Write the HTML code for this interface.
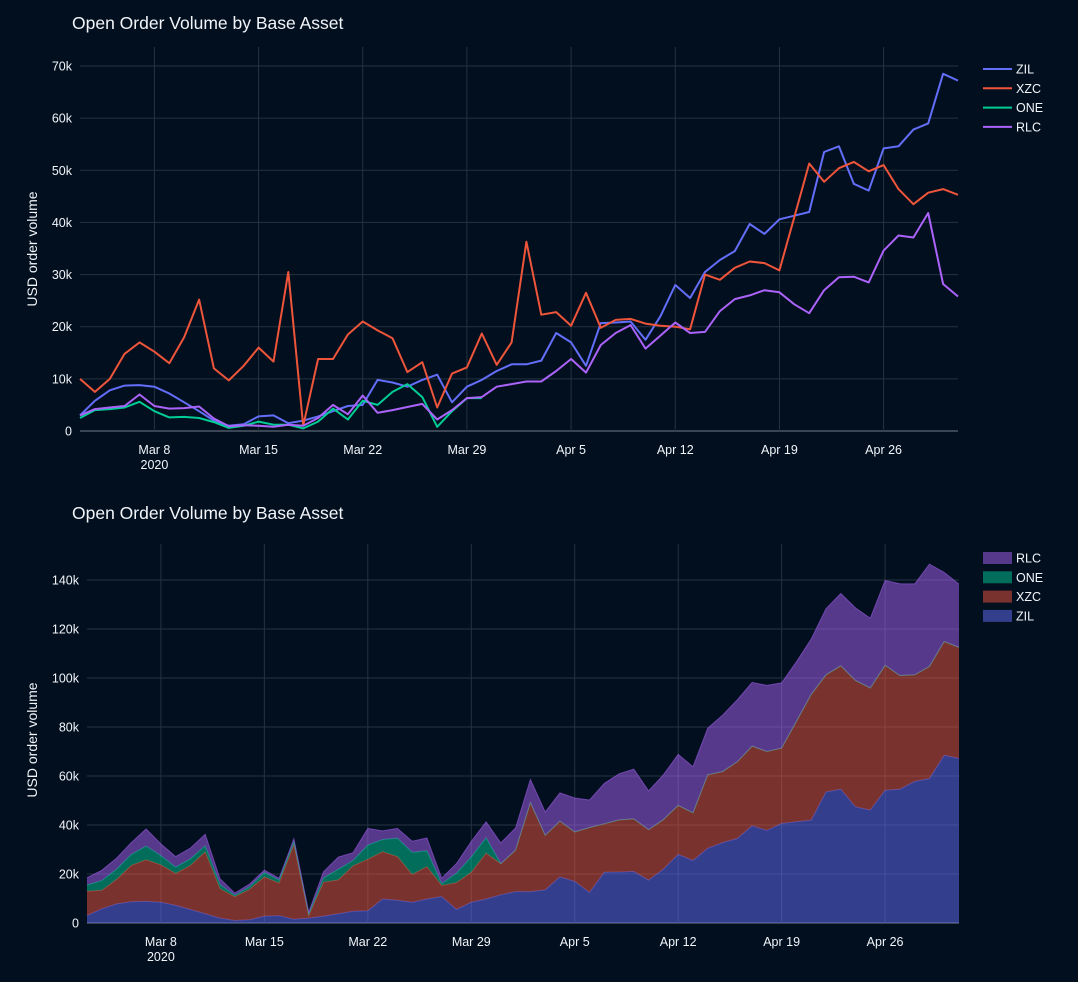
<!DOCTYPE html>
<html><head><meta charset="utf-8">
<style>
html,body{margin:0;padding:0;background:#020f1e;}
svg{display:block;font-family:"Liberation Sans",sans-serif;}
text{fill:#f2f5fa;}
</style></head>
<body>
<svg id="chart" width="1078" height="982" viewBox="0 0 1078 982" xmlns="http://www.w3.org/2000/svg">
<rect width="1078" height="982" fill="#020f1e"/>
<text x="72" y="29" font-size="17.5">Open Order Volume by Base Asset</text>
<text x="72" y="519" font-size="17.5">Open Order Volume by Base Asset</text>
<text transform="translate(37,249) rotate(-90)" text-anchor="middle" font-size="14">USD order volume</text>
<text transform="translate(37,740) rotate(-90)" text-anchor="middle" font-size="14">USD order volume</text>
<g id="top"></g>
<g id="bottom"></g>
</svg>
<script>
const startDate = "2020-03-03";
const xTickLabels = ["Mar 8","Mar 15","Mar 22","Mar 29","Apr 5","Apr 12","Apr 19","Apr 26"];
const xTickDayIndex = [5,12,19,26,33,40,47,54];
const topYTicks = [0,10,20,30,40,50,60,70];
const bottomYTicks = [0,20,40,60,80,100,120,140];
const seriesNames = ["ZIL","XZC","ONE","RLC"];
const ZIL = [3,5.8,7.8,8.7,8.8,8.5,7.2,5.5,3.8,2,1,1.3,2.8,3,1.5,2,2.8,3.8,4.8,5,9.8,9.3,8.5,9.8,10.8,5.5,8.5,9.8,11.5,12.8,12.8,13.5,18.8,17,12.5,20.7,20.8,21,17.5,22,28,25.5,30.5,32.8,34.5,39.7,37.8,40.6,41.3,42,53.5,54.6,47.4,46.1,54.2,54.6,57.8,59,68.5,67.2];
const XZC = [10,7.5,10,14.8,17,15.2,13,18,25.2,12,9.7,12.5,16,13.3,30.5,1,13.8,13.8,18.5,21,19.3,17.8,11.3,13.2,4.5,11,12.2,18.7,12.7,17,36.3,22.3,22.8,20.2,26.5,19.8,21.3,21.5,20.6,20.2,20,19.5,30,29,31.3,32.5,32.2,30.8,41,51.3,47.8,50.4,51.6,49.8,51,46.4,43.5,45.7,46.4,45.3];
const ONE = [2.5,4,4.2,4.5,5.6,3.8,2.6,2.7,2.5,1.7,0.6,1,1.8,1.2,1.2,0.5,1.8,4.3,2.2,5.8,5,7.5,9,6.5,0.8,3.8,6.3,6.3];
const RLC = [3,4.2,4.5,4.8,7,4.8,4.3,4.4,4.7,2.4,0.9,1.1,1,0.8,1.2,1,2.5,5,3.2,6.8,3.5,4,4.6,5.2,2.2,4,6.3,6.5,8.5,9,9.5,9.5,11.5,13.8,11.2,16.5,18.8,20.3,15.8,18.3,20.8,18.8,19,23,25.3,26,27,26.6,24.3,22.6,27,29.5,29.6,28.5,34.6,37.5,37.1,41.8,28.2,25.8];
const lineColors = ["#636efa","#EF553B","#00cc96","#ab63fa"];

const NS="http://www.w3.org/2000/svg";
function mk(tag,attrs,parent){const e=document.createElementNS(NS,tag);for(const k in attrs)e.setAttribute(k,attrs[k]);parent.appendChild(e);return e;}
const N = ZIL.length;
const seriesData = [ZIL,XZC,ONE,RLC];

function drawAxes(g, x, y, yTicks, x0, x1, yTop, yBottom, prefix){
  yTicks.forEach(t=>{
    const l=mk('line',{x1:x0,x2:x1,y1:y(t),y2:y(t),stroke:t===0?'#3a4654':'#253341','stroke-width':t===0?2:1},g);
    
    
    const tx=mk('text',{x:x0-8,y:y(t)+4.5,'text-anchor':'end','font-size':12.5},g);
    tx.textContent = t===0?'0':t+'k';
    
    
  });
  xTickDayIndex.forEach((d,i)=>{
    const l=mk('line',{x1:x(d),x2:x(d),y1:yTop,y2:yBottom,stroke:'#253341','stroke-width':1},g);
    
    
    const tx=mk('text',{x:x(d),y:yBottom+23,'text-anchor':'middle','font-size':12.5},g);
    tx.textContent=xTickLabels[i];
    
    
    if(i===0){
      const t2=mk('text',{x:x(d),y:yBottom+38,'text-anchor':'middle','font-size':12.5},g);
      t2.textContent='2020';
      
      
    }
  });
}

// TOP line chart
(function(){
  const g=document.getElementById('top');
  const x=i=>80+i*(878/59);
  const y=v=>431-v*(365/70);
  drawAxes(g,x,y,topYTicks,80,958,47,431,'top');
  seriesData.forEach((arr,s)=>{
    const pts=arr.map((v,i)=>x(i).toFixed(1)+','+y(v).toFixed(1)).join(' ');
    const p=mk('polyline',{points:pts,fill:'none',stroke:lineColors[s],'stroke-width':2,'stroke-linejoin':'round'},g);
    
    
  });
  seriesNames.forEach((n,s)=>{
    const yy=69+s*19.3;
    const lg=mk('g',{},g);
    
    
    mk('line',{x1:983,x2:1012,y1:yy,y2:yy,stroke:lineColors[s],'stroke-width':2},lg);
    const t=mk('text',{x:1016,y:yy+4.5,'font-size':12.5},lg);t.textContent=n;
  });
})();

// BOTTOM stacked area
(function(){
  const g=document.getElementById('bottom');
  const x=i=>87+i*(872/59);
  const y=v=>923-v*(343/140);
  drawAxes(g,x,y,bottomYTicks,87,959,544,923,'bottom');
  let base=new Array(N).fill(0);
  seriesData.forEach((arr,s)=>{
    const top=base.map((b,i)=>b+(arr[i]!==undefined?arr[i]:0));
    let d='M'+top.map((v,i)=>x(i).toFixed(1)+','+y(v).toFixed(1)).join('L');
    for(let i=N-1;i>=0;i--) d+='L'+x(i).toFixed(1)+','+y(base[i]).toFixed(1);
    d+='Z';
    const a=mk('path',{d:d,fill:lineColors[s],'fill-opacity':0.5,stroke:'none'},g);
    
    
    const l=mk('polyline',{points:top.map((v,i)=>x(i).toFixed(1)+','+y(v).toFixed(1)).join(' '),fill:'none',stroke:lineColors[s],'stroke-opacity':0.5,'stroke-width':1},g);
    
    
    base=top;
  });
  const order=[3,2,1,0];
  order.forEach((s,k)=>{
    const yy=558+k*19.3;
    const lg=mk('g',{},g);
    
    
    mk('rect',{x:983,y:yy-6,width:29,height:12,fill:lineColors[s],'fill-opacity':0.5},lg);
    const t=mk('text',{x:1016,y:yy+4.5,'font-size':12.5},lg);t.textContent=seriesNames[s];
  });
})();
</script>
</body></html>
